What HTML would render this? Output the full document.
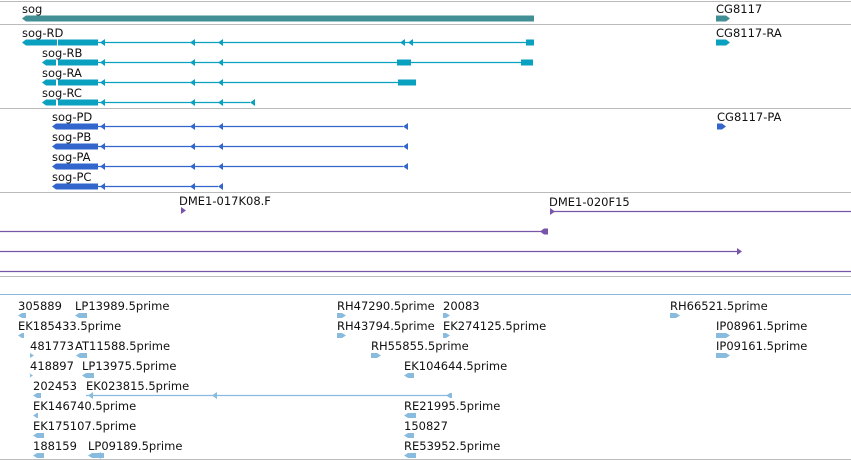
<!DOCTYPE html>
<html><head><meta charset="utf-8"><style>
html,body{margin:0;padding:0;background:#fff;}
svg{display:block;font-family:"DejaVu Sans","Liberation Sans",sans-serif;font-size:11.5px;}
</style></head><body>
<svg id="c" width="851" height="460" viewBox="0 0 851 460"></svg>
<script>
// separators
const sepY=[1,24,108,192,276,459];
const sepColor=["#bbb","#bbb","#bbb","#bbb","#bbb","#bbb"];
// features: label, label x, row y (feature y), color, exons, line, markers, dir
const labels=["sog","sog-RD","sog-RB","sog-RA","sog-RC","sog-PD","sog-PB","sog-PA","sog-PC","CG8117","CG8117-RA","CG8117-PA",
"DME1-017K08.F","DME1-020F15","","","",
"305889","LP13989.5prime","RH47290.5prime","20083","RH66521.5prime",
"EK185433.5prime","RH43794.5prime","EK274125.5prime","IP08961.5prime",
"481773","AT11588.5prime","RH55855.5prime","IP09161.5prime",
"418897","LP13975.5prime","EK104644.5prime",
"202453","EK023815.5prime",
"EK146740.5prime","RE21995.5prime",
"EK175107.5prime","150827",
"188159","LP09189.5prime","RE53952.5prime"];
const labelX=[22,22,42,42,42,52,52,52,52,716,716,717,179,549,0,0,0,
18,75,337,443,670, 18,337,443,716, 30,75,371,716, 30,82,404, 33,86, 33,404, 33,404, 33,88,404];
const rowY=[18,42,62,82,102,126,146,166,186,18,42,126,210,211,231,251,271,
315,315,315,315,315, 335,335,335,335, 355,355,355,355, 375,375,375, 395,395, 415,415, 435,435, 455,455,455];
const kind=["g","t","t","t","t","p","p","p","p","g","t","p","c","c","c","c","c",
"e","e","e","e","e","e","e","e","e","e","e","e","e","e","e","e","e","e","e","e","e","e","e","e","e"];
const exons=[[[22,534]],[[22,57],[58,98],[526,534]],[[42,56],[58,98],[397,411],[521,533]],[[42,56],[58,98],[398,416]],[[42,56],[58,98]],
[[52,98]],[[52,98]],[[52,98]],[[52,98]],[[716,730]],[[716,730]],[[717,726]],
[],[],[[540,548]],[],[],
[[18,26]],[[75,87]],[[337,346]],[[443,450]],[[670,680]],
[[18,24]],[[337,346]],[[443,450]],[[716,730]],
[[30,34]],[[76,87]],[[371,381]],[[716,730]],
[[30,33]],[[82,94]],[[404,414]],
[[33,41]],[[446,452]],
[[33,38]],[[404,416]],
[[33,44]],[[404,414]],
[[33,44]],[[88,104]],[[404,416]]];
const lines=[null,[98,534],[98,533],[98,416],[98,250],[98,403],[98,403],[98,403],[98,218],null,null,null,
null,[550,851],[0,548],[0,737],[0,851],
null,null,null,null,null,null,null,null,null,null,null,null,null,null,null,null,null,[86,452],null,null,null,null,null,null,null];
const markers=[[],[100,190,218,400,408],[100,190,218],[100,190,218],[100,190,218,250],[100,190,218,403],[100,190,218,403],[100,190,218,403],[100,190,218],[],[],[],
[181],[550],[],[737],[],
[],[],[],[],[],[],[],[],[],[],[],[],[],[],[],[],[],[88,212],[],[],[],[],[],[96],[]];
const dir=[-1,-1,-1,-1,-1,-1,-1,-1,-1,1,1,1, 1,1,-1,1,1,
-1,-1,1,1,1, -1,1,1,1, 1,-1,1,1, 1,-1,-1, -1,-1, -1,-1, -1,-1, -1,-1,-1];

const colors={g:"#418f94",t:"#0aa0c0",p:"#3366cc",c:"#7755aa",e:"#88bbdd"};
const NS="http://www.w3.org/2000/svg";
const svg=document.getElementById('c');
function mk(t,a){const e=document.createElementNS(NS,t);for(const k in a)e.setAttribute(k,a[k]);svg.appendChild(e);return e;}
sepY.forEach((y,i)=>{const l=mk('line',{x1:0,x2:851,y1:y+0.5,y2:y+0.5,stroke:sepColor[i]});

});
const ln=mk('line',{x1:0,x2:851,y1:294.5,y2:294.5,stroke:"#8ab8d8"});



labels.forEach((lab,i)=>{
 const col=colors[kind[i]],y=rowY[i],d=dir[i];
 const h=kind[i]=="g"?6:(kind[i]=="e"?5:6);
 const g=document.createElementNS(NS,'g');svg.appendChild(g);
 
 
 if(lab){const t=document.createElementNS(NS,'text');t.setAttribute('x',labelX[i]);t.setAttribute('y',y-5);t.setAttribute('fill','#111');t.textContent=lab;g.appendChild(t);}
 if(lines[i]){const l=document.createElementNS(NS,'line');l.setAttribute('x1',lines[i][0]);l.setAttribute('x2',lines[i][1]);l.setAttribute('y1',y+0.5);l.setAttribute('y2',y+0.5);l.setAttribute('stroke',col);l.setAttribute('stroke-width',1.2);g.appendChild(l);}
 exons[i].forEach((ex,j)=>{
  let [a,b]=ex;const p=document.createElementNS(NS,'path');
  const t=y-h/2+0.5,bt=y+h/2+0.5;
  let dd;
  if(d<0&&j==0) dd=`M${a} ${y+0.5} L${a+4} ${t} L${b} ${t} L${b} ${bt} L${a+4} ${bt}Z`;
  else if(d>0&&j==exons[i].length-1) dd=`M${a} ${t} L${b-4} ${t} L${b} ${y+0.5} L${b-4} ${bt} L${a} ${bt}Z`;
  else dd=`M${a} ${t} L${b} ${t} L${b} ${bt} L${a} ${bt}Z`;
  p.setAttribute('d',dd);p.setAttribute('fill',col);g.appendChild(p);
 });
 markers[i].forEach(m=>{const p=document.createElementNS(NS,'path');
  const dd=d<0?`M${m} ${y+0.5} L${m+5} ${y-3} L${m+5} ${y+4}Z`:`M${m+5} ${y+0.5} L${m} ${y-3} L${m} ${y+4}Z`;
  p.setAttribute('d',dd);p.setAttribute('fill',col);g.appendChild(p);});
});
</script>
</body></html>
